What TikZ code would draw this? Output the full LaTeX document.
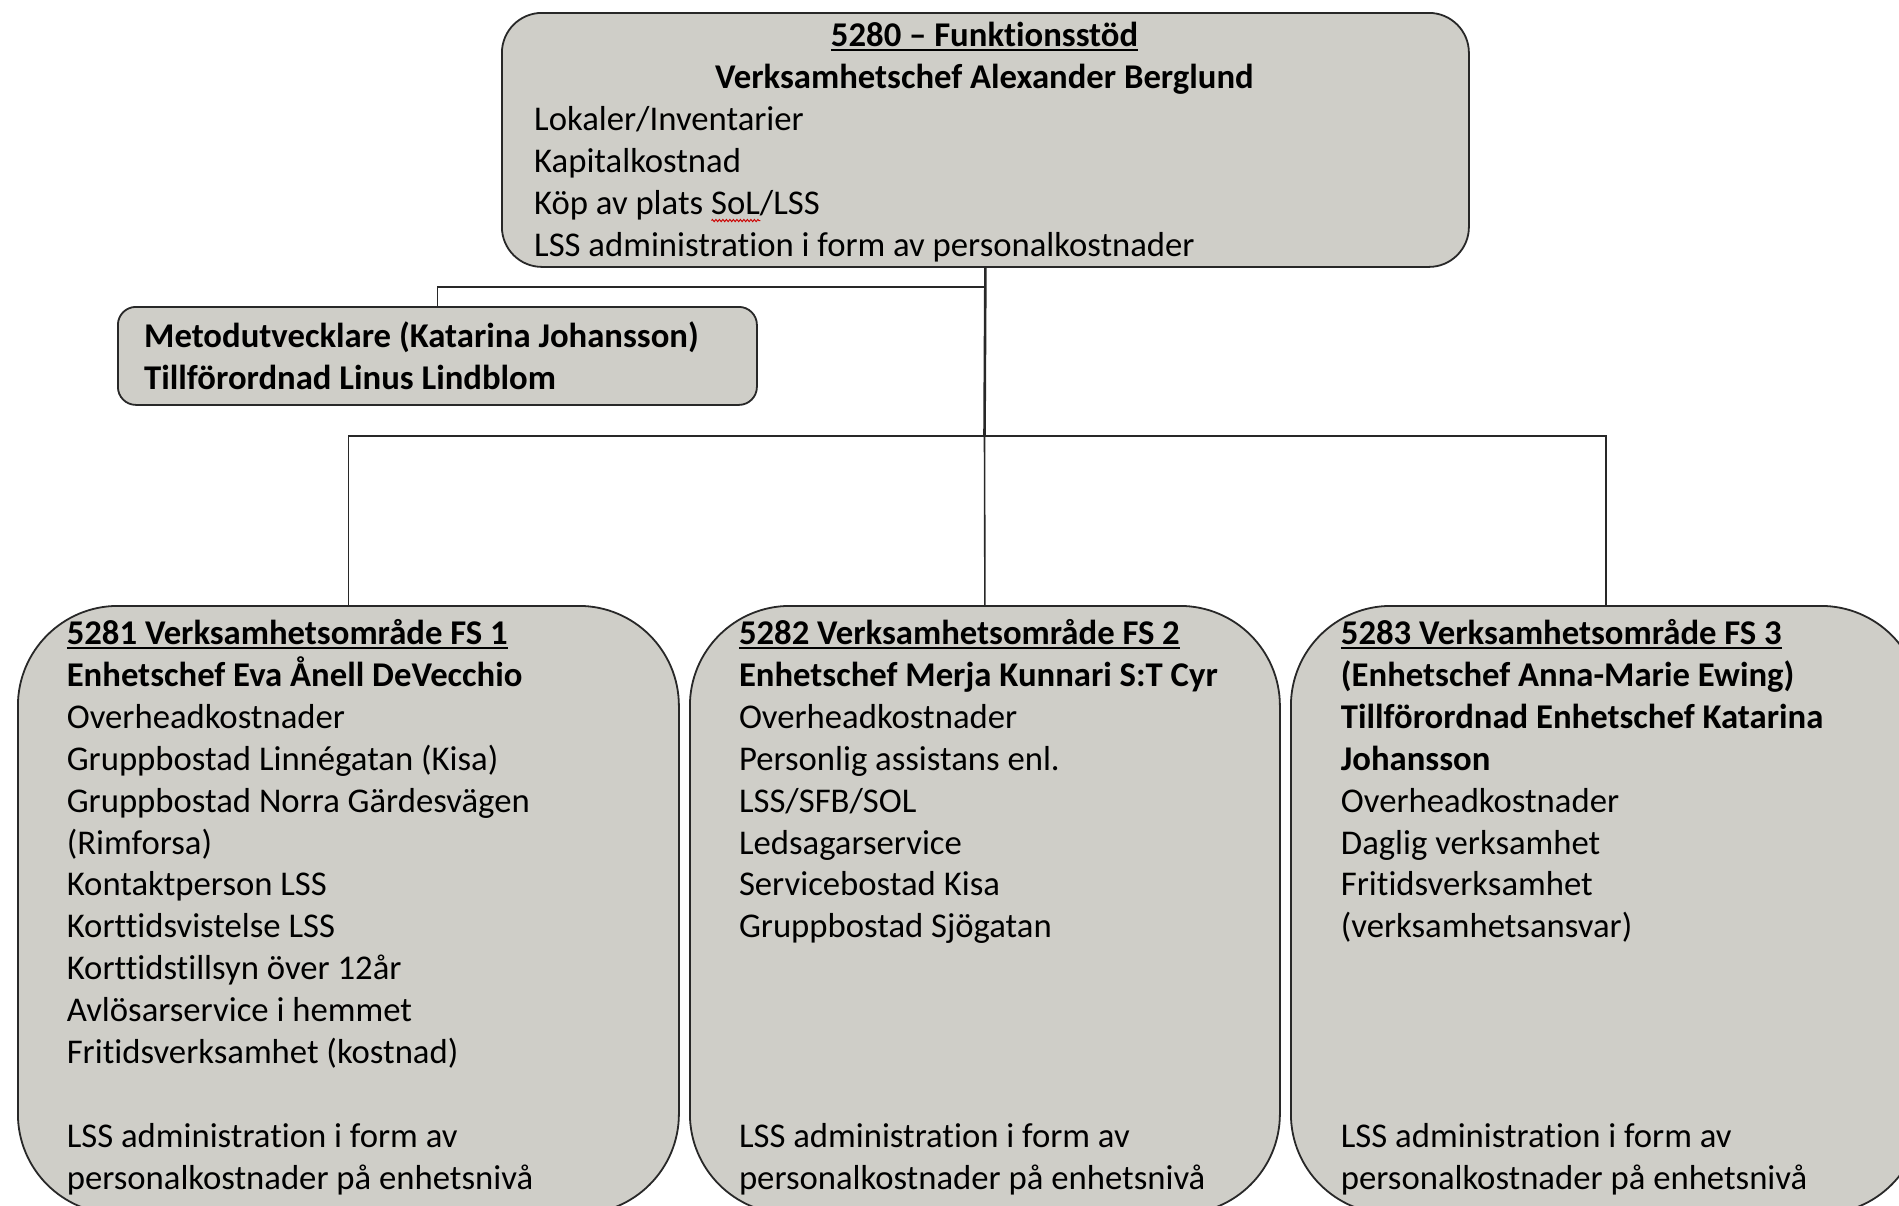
\documentclass[tikz,border=0pt]{standalone}
\usepackage{fontspec}
\setmainfont{Carlito}[Ligatures={NoCommon}]
\usetikzlibrary{decorations.pathmorphing}
\definecolor{boxfill}{RGB}{207,206,200}
\definecolor{edge}{RGB}{40,40,40}
\newcommand\myul[1]{\leavevmode\setbox0\hbox{#1}\rlap{\rule[-4.5bp]{\wd0}{1.8bp}}\box0}
\newcommand\squig[1]{\leavevmode\setbox0\hbox{#1}\rlap{\raisebox{-8bp}{\tikz\draw[red!80!black, line width=0.9bp, decorate, decoration={zigzag, segment length=3.5bp, amplitude=1.1bp}] (0pt,0pt) -- (\the\wd0,0pt);}}\box0}
\newcommand\mylines[1]{\parbox[t]{820bp}{\raggedright\fontsize{34.7bp}{41.9bp}\selectfont #1}}
\tikzset{
  box/.style={draw=edge, line width=1.8bp, fill=boxfill, inner sep=0pt, anchor=north west},
  txt/.style={anchor=base west, inner sep=0pt, text=black, font=\fontsize{34.7bp}{41.9bp}\selectfont},
  ctxt/.style={anchor=base, inner sep=0pt, text=black, font=\fontsize{34.7bp}{41.9bp}\selectfont},
  conn/.style={draw=edge, line width=1.6bp},
  mainconn/.style={draw=edge, line width=2.6bp},
}
\begin{document}
\begin{tikzpicture}[x=1bp, y=-1bp]
\useasboundingbox (0,0) rectangle (1899,1205);
\clip (0,0) rectangle (1899,1205);
\fill[white] (0,0) rectangle (1899,1205);

% boxes
\node[box, rounded corners=40bp, minimum width=967bp, minimum height=254bp] (top) at (501,12) {};
\node[box, rounded corners=18bp, minimum width=639bp, minimum height=98bp] (metod) at (117,306) {};
\node[box, rounded corners=100bp, minimum width=661bp, minimum height=608bp] (b1) at (17,605) {};
\node[box, rounded corners=100bp, minimum width=590bp, minimum height=608bp] (b2) at (689,605) {};
\node[box, rounded corners=100bp, minimum width=630bp, minimum height=608bp] (b3) at (1290,605) {};

% connectors
\coordinate (j1) at (984.5,287);
\coordinate (bus) at (984.5,436);
\draw[mainconn] (top.south) -- (bus);
\draw[conn] (j1) -| (metod.north);
\draw[conn] (b1.north) |- (bus) -| (b3.north);
\draw[conn] (bus) -- (b2.north);

% top box text
\node[ctxt] (t1) at (984.5,46.5) {\bfseries\myul{5280 – Funktionsstöd}};
\node[ctxt] (t2) at (984.5,88.4) {\bfseries Verksamhetschef Alexander Berglund};
\node[txt] (t3) at (534,130.3) {\mylines{Lokaler/Inventarier\\
Kapitalkostnad\\
Köp av plats \squig{SoL}/LSS\\
LSS administration i form av personalkostnader}};

% metod text
\node[txt] (m1) at (144,347.5) {\mylines{\bfseries Metodutvecklare (Katarina Johansson)\\
Tillförordnad Linus Lindblom}};

% box 1 text
\node[txt] (p1) at (66.6,644.5) {\mylines{{\bfseries\myul{5281 Verksamhetsområde FS 1}}\\
{\bfseries Enhetschef Eva Ånell DeVecchio}\\
Overheadkostnader\\
Gruppbostad Linnégatan (Kisa)\\
Gruppbostad Norra Gärdesvägen\\
(Rimforsa)\\
Kontaktperson LSS\\
Korttidsvistelse LSS\\
Korttidstillsyn över 12år\\
Avlösarservice i hemmet\\
Fritidsverksamhet (kostnad)}};
\node[txt] (q1) at (66.6,1147.3) {\mylines{LSS administration i form av\\
personalkostnader på enhetsnivå}};

% box 2 text
\node[txt] (p2) at (738.8,644.5) {\mylines{{\bfseries\myul{5282 Verksamhetsområde FS 2}}\\
{\bfseries Enhetschef Merja Kunnari S:T Cyr}\\
Overheadkostnader\\
Personlig assistans enl.\\
LSS/SFB/SOL\\
Ledsagarservice\\
Servicebostad Kisa\\
Gruppbostad Sjögatan}};
\node[txt] (q2) at (738.8,1147.3) {\mylines{LSS administration i form av\\
personalkostnader på enhetsnivå}};

% box 3 text
\node[txt] (p3) at (1340.7,644.5) {\mylines{{\bfseries\myul{5283 Verksamhetsområde FS 3}}\\
{\bfseries (Enhetschef Anna-Marie Ewing)}\\
{\bfseries Tillförordnad Enhetschef Katarina}\\
{\bfseries Johansson}\\
Overheadkostnader\\
Daglig verksamhet\\
Fritidsverksamhet\\
(verksamhetsansvar)}};
\node[txt] (q3) at (1340.7,1147.3) {\mylines{LSS administration i form av\\
personalkostnader på enhetsnivå}};
\end{tikzpicture}
\end{document}
